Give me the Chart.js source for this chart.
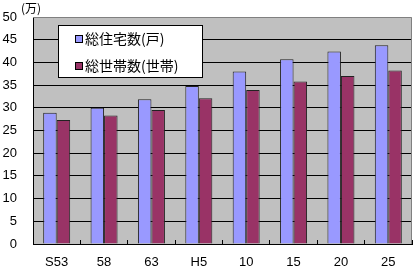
<!DOCTYPE html>
<html>
<head>
<meta charset="utf-8">
<script src="https://cdn.jsdelivr.net/npm/chart.js@4.4.0/dist/chart.umd.min.js"></script>
<style>
  html, body { margin: 0; padding: 0; background: #fff; }
</style>
</head>
<body>
<canvas id="chart" width="417" height="276"></canvas>
<script>
const years = ['S53', '58', '63', 'H5', '10', '15', '20', '25'];
const houses = [28.9, 30.0, 31.9, 34.8, 38.0, 40.7, 42.4, 43.8];
const households = [27.3, 28.3, 29.5, 32.1, 33.9, 35.8, 37.0, 38.2];
const seriesNames = ['総住宅数(戸)', '総世帯数(世帯)'];
const unitLabel = '(万)';
const yTicks = { min: 0, max: 50, step: 5 };

const cjkFont = '"Noto Sans CJK JP", sans-serif';
const latinFont = '"Liberation Sans", Arial, sans-serif';

// gray plot background
const plotBg = {
    id: 'plotBg',
    beforeDraw(chart) {
        const { ctx, chartArea: a } = chart;
        ctx.save();
        ctx.fillStyle = '#c0c0c0';
        ctx.fillRect(a.left, a.top, a.right - a.left, a.bottom - a.top);
        ctx.restore();
    }
};

// gray frame top/right, boxed legend inside the plot, unit label
const extras = {
    id: 'extras',
    afterDraw(chart) {
        const { ctx, chartArea: a } = chart;
        ctx.save();
        ctx.strokeStyle = '#808080';
        ctx.lineWidth = 1;
        ctx.beginPath();
        ctx.moveTo(a.left, a.top + 0.5);
        ctx.lineTo(a.right - 0.5, a.top + 0.5);
        ctx.lineTo(a.right - 0.5, a.bottom);
        ctx.stroke();

        const bx = 58.5, by = 25.5, bw = 144, bh = 52;
        ctx.fillStyle = '#fff';
        ctx.fillRect(bx, by, bw, bh);
        ctx.strokeStyle = '#000';
        ctx.strokeRect(bx, by, bw, bh);
        ctx.font = '14px ' + cjkFont;
        ctx.textBaseline = 'middle';
        ctx.textAlign = 'left';
        chart.data.datasets.forEach((ds, i) => {
            const cy = 39 + i * 27;
            ctx.fillStyle = ds.backgroundColor;
            ctx.fillRect(75.5, cy - 3.5, 7, 7);
            ctx.strokeStyle = '#000';
            ctx.strokeRect(75.5, cy - 3.5, 7, 7);
            ctx.fillStyle = '#000';
            ctx.fillText(ds.label, 85, cy);
        });

        ctx.font = '12px ' + cjkFont;
        ctx.textAlign = 'center';
        ctx.fillText(unitLabel, 31, 8);
        ctx.restore();
    }
};

new Chart(document.getElementById('chart'), {
    type: 'bar',
    data: {
        labels: years,
        datasets: [{
            label: seriesNames[0],
            data: houses,
            backgroundColor: '#9999ff',
            borderColor: '#222',
            borderWidth: 1
        }, {
            label: seriesNames[1],
            data: households,
            backgroundColor: '#993366',
            borderColor: '#222',
            borderWidth: 1
        }]
    },
    options: {
        responsive: false,
        animation: false,
        categoryPercentage: 0.57,
        barPercentage: 1.0,
        layout: {
            padding: { top: 17, right: 5, left: 0, bottom: 0 }
        },
        scales: {
            x: {
                offset: true,
                grid: {
                    display: true,
                    offset: true,
                    drawOnChartArea: false,
                    drawTicks: true,
                    tickLength: -4, // small ticks pointing into the plot
                    color: '#000'
                },
                border: { color: '#000' },
                ticks: {
                    color: '#000',
                    padding: 15,
                    font: { family: latinFont, size: 13 }
                },
                afterFit(scale) { scale.height = 32; }
            },
            y: {
                min: yTicks.min,
                max: yTicks.max,
                grid: {
                    drawTicks: false,
                    color: ctx => ctx.tick && ctx.tick.value === yTicks.max ? 'rgba(0,0,0,0)' : '#000'
                },
                border: { color: '#000' },
                ticks: {
                    stepSize: yTicks.step,
                    color: '#000',
                    padding: 16,
                    font: { family: latinFont, size: 13 }
                },
                afterFit(scale) {
                    scale.width = 33;
                    scale.paddingTop = 0;
                    scale.paddingBottom = 0;
                }
            }
        },
        plugins: {
            legend: { display: false },
            tooltip: { enabled: false }
        }
    },
    plugins: [plotBg, extras]
});
</script>
</body>
</html>
